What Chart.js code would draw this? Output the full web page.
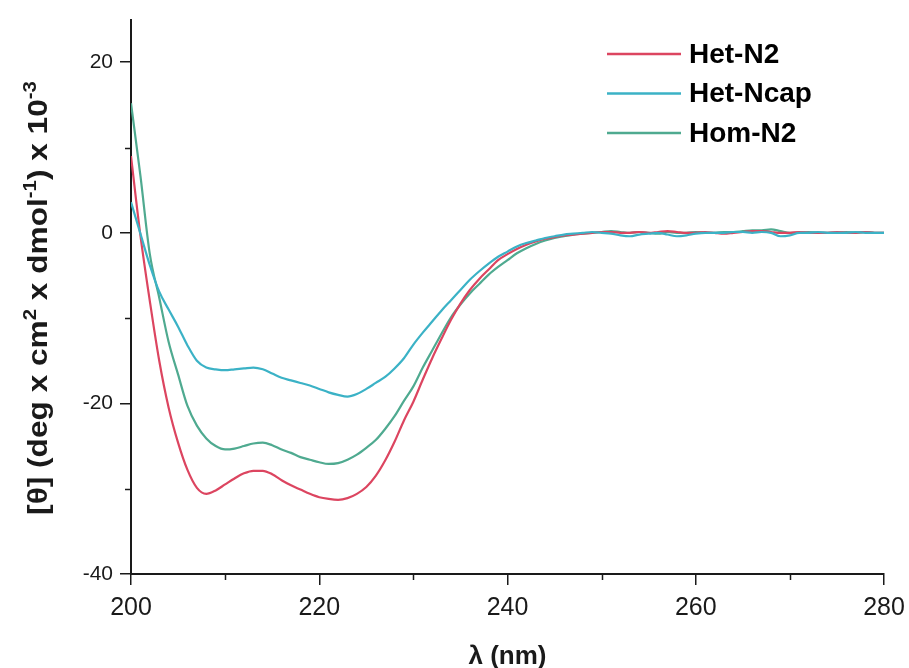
<!DOCTYPE html>
<html>
<head>
<meta charset="utf-8">
<script src="https://cdn.jsdelivr.net/npm/chart.js@4.4.1/dist/chart.umd.min.js"></script>
<style>
  html, body { margin: 0; padding: 0; background: #fff; }
  canvas { display: block; }
</style>
</head>
<body>
<canvas id="cd" width="909" height="668"></canvas>
<script>
// wavelength (nm)
const wavelengths = [
  200,201,202,203,204,205,206,207,208,209,
  210,211,212,213,214,215,216,217,218,219,
  220,221,222,223,224,225,226,227,228,229,
  230,231,232,233,234,235,236,237,238,239,
  240,241,242,243,244,245,246,247,248,249,
  250,251,252,253,254,255,256,257,258,259,
  260,261,262,263,264,265,266,267,268,269,
  270,271,272,273,274,275,276,277,278,279,
  280
];

// [theta] x 10^-3
const hetN2 = [
  9.0,-0.3,-8.0,-15.0,-20.5,-24.6,-27.8,-29.9,-30.6,-30.2,
  -29.5,-28.8,-28.2,-27.9,-27.9,-28.3,-29.0,-29.6,-30.1,-30.6,
  -31.0,-31.2,-31.3,-31.1,-30.6,-29.8,-28.5,-26.7,-24.5,-22.0,
  -19.8,-17.2,-14.7,-12.4,-10.2,-8.3,-6.7,-5.4,-4.3,-3.2,
  -2.5,-1.9,-1.4,-1.0,-0.7,-0.5,-0.3,-0.2,-0.1,0.0,
  0.1,0.1,0.0,0.0,0.1,0.0,0.1,0.2,0.1,0.0,
  0.0,0.1,0.0,-0.1,0.0,0.1,0.2,0.2,0.1,0.0,
  0.0,0.1,0.0,0.0,0.0,0.1,0.0,0.0,0.1,0.0,
  0.0
];

const hetNcap = [
  3.6,-0.1,-3.8,-6.9,-9.0,-11.0,-13.2,-15.0,-15.8,-16.0,
  -16.1,-16.0,-15.9,-15.8,-16.0,-16.5,-17.0,-17.3,-17.6,-17.9,
  -18.3,-18.7,-19.0,-19.2,-18.9,-18.3,-17.6,-16.9,-15.9,-14.7,
  -13.1,-11.7,-10.4,-9.1,-7.9,-6.7,-5.5,-4.5,-3.6,-2.8,
  -2.2,-1.6,-1.2,-0.9,-0.6,-0.4,-0.2,-0.1,0.0,0.1,
  0.0,-0.1,-0.3,-0.4,-0.2,-0.1,0.0,-0.2,-0.4,-0.3,
  -0.1,0.0,0.0,0.0,0.1,0.1,0.0,0.1,0.0,-0.4,
  -0.3,0.0,0.0,0.1,0.0,0.0,0.0,0.1,0.0,0.0,
  0.0
];

const homN2 = [
  15.2,6.7,-2.5,-7.6,-12.8,-16.6,-20.3,-22.6,-24.1,-25.0,
  -25.4,-25.3,-25.0,-24.7,-24.6,-24.9,-25.4,-25.8,-26.3,-26.6,
  -26.9,-27.1,-27.0,-26.6,-26.0,-25.2,-24.3,-23.0,-21.5,-19.7,
  -18.0,-15.8,-13.8,-11.8,-9.9,-8.4,-7.1,-6.0,-4.9,-4.0,
  -3.2,-2.4,-1.8,-1.3,-0.9,-0.6,-0.4,-0.2,-0.1,0.0,
  0.1,0.2,0.1,0.0,0.1,0.0,-0.1,0.1,0.0,0.0,
  0.1,0.0,0.0,0.1,0.1,0.2,0.3,0.3,0.4,0.2,
  0.0,0.0,0.1,0.0,0.0,0.0,0.1,0.0,0.1,0.0,
  0.0
];

const seriesNames = ['Het-N2', 'Het-Ncap', 'Hom-N2'];
const xTicks = [200, 220, 240, 260, 280];
const xMinor = [210, 230, 250, 270];
const yTicks = [-40, -20, 0, 20];
const yMinor = [-30, -10, 10];

const colors = ['#dc4560', '#3bb2c6', '#4faa90'];
const ink = '#1a1a1a';

function pts(vals) {
  return wavelengths.map((w, i) => ({ x: w, y: vals[i] }));
}

//minor ticks, axis titles, legend
const decor = {
  id: 'decor',
  afterDraw(chart) {
    const ctx = chart.ctx;
    const sx = chart.scales.x;
    const sy = chart.scales.y;
    ctx.save();
    ctx.strokeStyle = ink;
    ctx.lineWidth = 1.5;
    xMinor.forEach(v => {
      const px = Math.round(sx.getPixelForValue(v)) + 0.5;
      ctx.beginPath();
      ctx.moveTo(px, sx.top);
      ctx.lineTo(px, sx.top + 6);
      ctx.stroke();
    });
    yMinor.forEach(v => {
      const py = Math.round(sy.getPixelForValue(v)) + 0.5;
      ctx.beginPath();
      ctx.moveTo(sy.right, py);
      ctx.lineTo(sy.right - 6, py);
      ctx.stroke();
    });

    // x title
    ctx.fillStyle = ink;
    ctx.font = 'bold 26px "Liberation Sans", Arial, sans-serif';
    ctx.textAlign = 'center';
    ctx.textBaseline = 'alphabetic';
    ctx.fillText('λ (nm)', (sx.left + sx.right) / 2, 664);

    // y title with superscripts
    const parts = [
      ['[θ] (deg x cm', false], ['2', true], [' x dmol', false],
      ['-1', true], [') x 10', false], ['-3', true]
    ];
    const big = 'bold 28px "Liberation Sans", Arial, sans-serif';
    const small = 'bold 18px "Liberation Sans", Arial, sans-serif';
    let total = 0;
    parts.forEach(p => { ctx.font = p[1] ? small : big; total += ctx.measureText(p[0]).width; });
    ctx.translate(47, 298);
    ctx.rotate(-Math.PI / 2);
    ctx.scale(1.13, 1);
    ctx.textAlign = 'left';
    let cx = -total / 2;
    parts.forEach(p => {
      ctx.font = p[1] ? small : big;
      ctx.fillText(p[0], cx, p[1] ? -11 : 0);
      cx += ctx.measureText(p[0]).width;
    });
    ctx.restore();

    // legend
    ctx.save();
    ctx.font = 'bold 28px "Liberation Sans", Arial, sans-serif';
    ctx.textBaseline = 'middle';
    ctx.textAlign = 'left';
    chart.data.datasets.forEach((ds, i) => {
      const ly = 54 + i * 39.5;
      ctx.strokeStyle = ds.borderColor;
      ctx.lineWidth = 2.5;
      ctx.beginPath();
      ctx.moveTo(607, ly);
      ctx.lineTo(681, ly);
      ctx.stroke();
      ctx.fillStyle = '#000';
      ctx.fillText(ds.label, 689, ly + 1);
    });
    ctx.restore();
  }
};

new Chart(document.getElementById('cd'), {
  type: 'line',
  data: {
    datasets: [
      { label: seriesNames[0], data: pts(hetN2), borderColor: colors[0], order: 1 },
      { label: seriesNames[1], data: pts(hetNcap), borderColor: colors[1], order: 0 },
      { label: seriesNames[2], data: pts(homN2), borderColor: colors[2], order: 2 }
    ]
  },
  options: {
    responsive: false,
    animation: false,
    devicePixelRatio: 1,
    layout: { padding: { top: 17, right: 25, left: 0, bottom: 0 } },
    elements: {
      point: { radius: 0 },
      line: { borderWidth: 2.2, cubicInterpolationMode: 'monotone' }
    },
    plugins: {
      legend: { display: false },
      tooltip: { enabled: false }
    },
    scales: {
      x: {
        type: 'linear',
        min: 200,
        max: 280,
        afterBuildTicks: s => { s.ticks = xTicks.map(v => ({ value: v })); },
        afterFit: s => { s.height = 94; s.paddingLeft = 0; s.paddingRight = 0; },
        grid: { drawOnChartArea: false, drawTicks: true, tickLength: 11, color: ink, lineWidth: 1.5 },
        border: { display: true, color: ink, width: 2 },
        ticks: { color: ink, padding: 8, font: { family: '"Liberation Sans", Arial, sans-serif', size: 25 } }
      },
      y: {
        min: -40,
        max: 25,
        afterBuildTicks: s => { s.ticks = yTicks.map(v => ({ value: v })); },
        afterFit: s => { s.width = 131; },
        grid: { drawOnChartArea: false, drawTicks: true, tickLength: 11, color: ink, lineWidth: 1.5 },
        border: { display: true, color: ink, width: 2 },
        ticks: { color: ink, padding: 7, font: { family: '"Liberation Sans", Arial, sans-serif', size: 21 } }
      }
    }
  },
  plugins: [decor]
});
</script>
</body>
</html>
